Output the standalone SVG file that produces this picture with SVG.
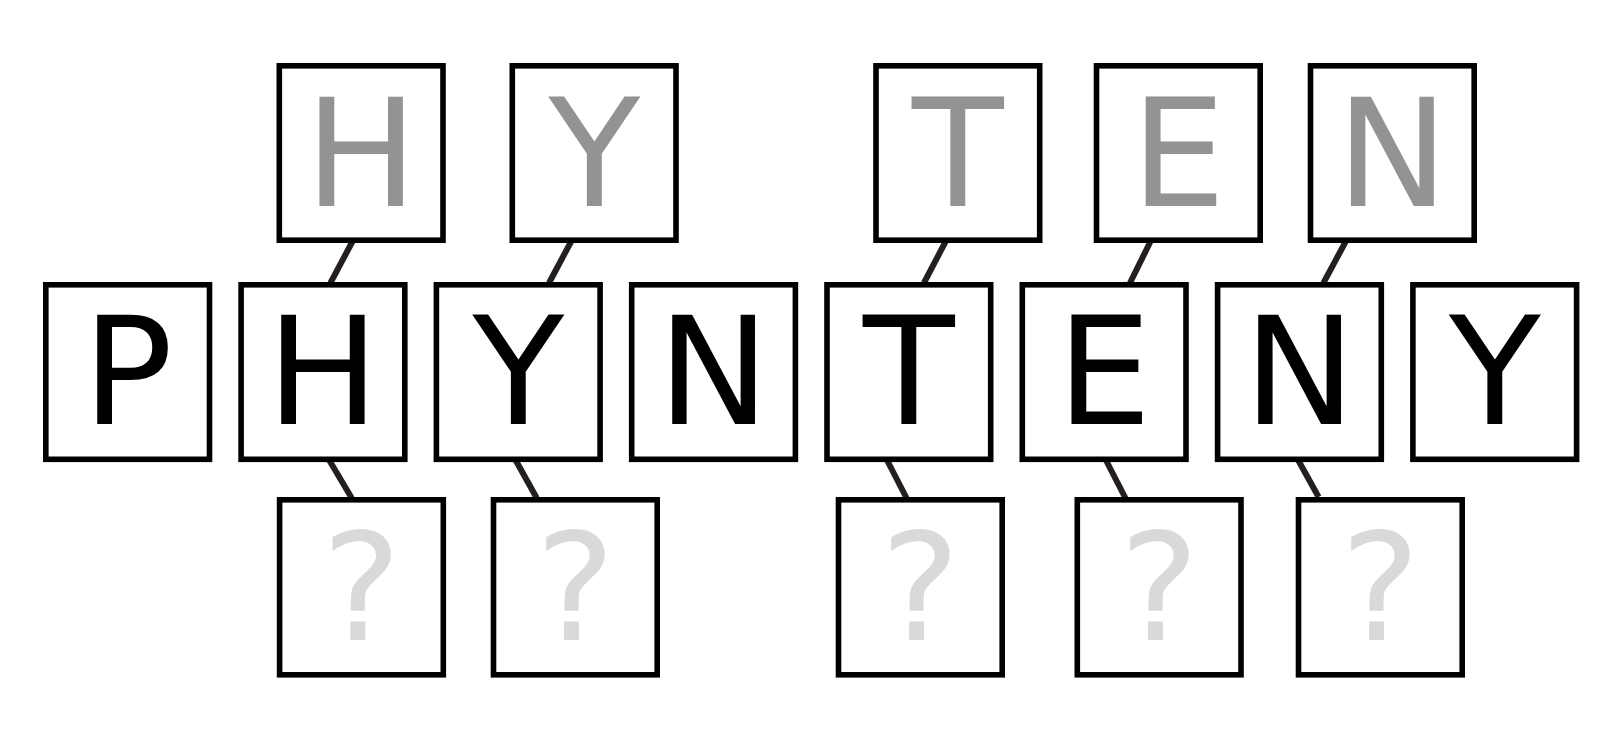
<svg xmlns="http://www.w3.org/2000/svg" width="1623" height="737" viewBox="0 0 1623 737">
<style>
.box{fill:#fff;stroke:#000;stroke-width:5.6}
.t{font-family:"DejaVu Sans",sans-serif;font-size:150px;text-anchor:middle}
.top{fill:#939393}
.mid{fill:#000}
.bot{fill:#d9d9d9}
.c{stroke:#231f20;stroke-width:6;fill:none}
</style>
<rect width="1623" height="737" fill="#fff"/>
<g id="connectors">
<line class="c" x1="352.7" y1="241" x2="330.4" y2="283"/>
<line class="c" x1="571.4" y1="241" x2="549" y2="283"/>
<line class="c" x1="945.9" y1="241" x2="923.9" y2="283"/>
<line class="c" x1="1150.7" y1="241" x2="1129" y2="285"/>
<line class="c" x1="1346" y1="241" x2="1323.4" y2="283"/>
<line class="c" x1="328.5" y1="459" x2="351.7" y2="498"/>
<line class="c" x1="515" y1="459" x2="536.7" y2="498"/>
<line class="c" x1="884.9" y1="456" x2="906.5" y2="498"/>
<line class="c" x1="1103.8" y1="456" x2="1125.4" y2="498"/>
<line class="c" x1="1297" y1="458" x2="1318.6" y2="497"/>
</g>
<g id="top-H"><rect class="box" x="279.3" y="65.8" width="163.7" height="174.4"/><text class="t top" x="361.2" y="206">H</text></g>
<g id="top-Y"><rect class="box" x="512.3" y="65.8" width="163.7" height="174.4"/><text class="t top" x="594.2" y="206">Y</text></g>
<g id="top-T"><rect class="box" x="876" y="65.8" width="163.7" height="174.4"/><text class="t top" x="957.9" y="206">T</text></g>
<g id="top-E"><rect class="box" x="1096.5" y="65.8" width="163.7" height="174.4"/><text class="t top" x="1178.4" y="206">E</text></g>
<g id="top-N"><rect class="box" x="1310.5" y="65.8" width="163.7" height="174.4"/><text class="t top" x="1392.4" y="206">N</text></g>
<g id="mid-P"><rect class="box" x="45.8" y="284.8" width="163.7" height="174.5"/><text class="t mid" x="127.7" y="424">P</text></g>
<g id="mid-H"><rect class="box" x="241.1" y="284.8" width="163.7" height="174.5"/><text class="t mid" x="323" y="424">H</text></g>
<g id="mid-Y"><rect class="box" x="436.4" y="284.8" width="163.7" height="174.5"/><text class="t mid" x="518.3" y="424">Y</text></g>
<g id="mid-N"><rect class="box" x="631.7" y="284.8" width="163.7" height="174.5"/><text class="t mid" x="713.6" y="424">N</text></g>
<g id="mid-T"><rect class="box" x="827" y="284.8" width="163.7" height="174.5"/><text class="t mid" x="908.9" y="424">T</text></g>
<g id="mid-E"><rect class="box" x="1022.3" y="284.8" width="163.7" height="174.5"/><text class="t mid" x="1104.2" y="424">E</text></g>
<g id="mid-N2"><rect class="box" x="1217.6" y="284.8" width="163.7" height="174.5"/><text class="t mid" x="1299.5" y="424">N</text></g>
<g id="mid-Y2"><rect class="box" x="1412.9" y="284.8" width="163.7" height="174.5"/><text class="t mid" x="1494.8" y="424">Y</text></g>
<g id="bot-1"><rect class="box" x="279.6" y="499.8" width="163.7" height="175"/><text class="t bot" x="361.5" y="640">?</text></g>
<g id="bot-2"><rect class="box" x="493.5" y="499.8" width="163.7" height="175"/><text class="t bot" x="575.4" y="640">?</text></g>
<g id="bot-3"><rect class="box" x="838.5" y="499.8" width="163.7" height="175"/><text class="t bot" x="920.4" y="640">?</text></g>
<g id="bot-4"><rect class="box" x="1077.3" y="499.8" width="163.7" height="175"/><text class="t bot" x="1159.2" y="640">?</text></g>
<g id="bot-5"><rect class="box" x="1298.5" y="499.8" width="163.7" height="175"/><text class="t bot" x="1380.4" y="640">?</text></g>
</svg>
